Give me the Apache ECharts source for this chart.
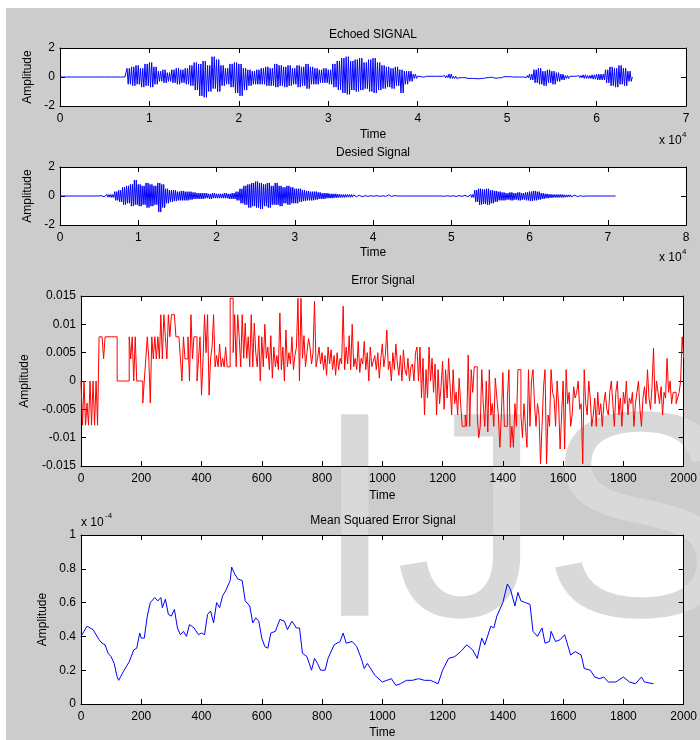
<!DOCTYPE html>
<html>
<head>
<meta charset="utf-8">
<script src="https://cdn.jsdelivr.net/npm/echarts@6/dist/echarts.min.js"></script>
<style>
  html, body { margin: 0; padding: 0; background: #fff; }
  #chart {
    width: 700px; height: 740px;
    background:
      linear-gradient(#fff, #fff) 0 0 / 100% 8px no-repeat,
      linear-gradient(#fff, #fff) 0 0 / 6px 100% no-repeat,
      #cccccc;
  }
</style>
</head>
<body>
<div id="chart"></div>
<script>
// ---- data ----
// Echoed signal: upper / lower peak per bin of 0.05 (x 10^4 samples)
const echoBin = 0.05;
const echoHi = [0,0,0,0,0,0,0,0,0,0,0,0,0,0,0,
  0.6,0.7,0.8,0.6,0.9,1.0,
  0.7,0.4,0.5,0.3,0.5,0.6,0.5,0.6,0.8,
  1.0,0.9,1.1,0.8,1.4,1.2,0.8,0.6,0.9,1.0,
  0.9,0.6,0.5,0.4,0.5,0.6,0.7,0.6,0.9,0.8,
  0.7,0.8,0.6,0.8,0.7,0.9,0.7,0.6,0.5,0.6,
  0.5,0.9,1.1,1.3,1.4,1.1,1.2,1.3,1.0,1.2,
  1.3,1.0,0.8,0.7,0.6,0.7,0.5,0.4,0.4,0.2,
  0.05,0,0.05,0.05,0.05,0.05,0.1,0.2,0.05,0,
  0.05,0,0,-0.05,-0.05,0,0.02,-0.02,0.02,0.08,
  0.06,0.05,0.04,0.05,0.1,0.2,0.5,0.6,0.4,0.5,
  0.4,0.3,0.2,0.1,0.05,0.05,0.1,0.15,0.1,0.15,
  0.2,0.2,0.5,0.7,0.6,0.8,0.6,0.4];
const echoLo = [0,0,0,0,0,0,0,0,0,0,0,0,0,0,0,
  -0.5,-0.6,-0.5,-0.7,-0.6,-0.7,
  -0.5,-0.3,-0.4,-0.3,-0.4,-0.5,-0.4,-0.5,-0.6,
  -0.9,-1.3,-1.4,-1.0,-0.8,-1.0,-0.6,-0.5,-0.7,-1.1,
  -1.3,-0.9,-0.6,-0.5,-0.5,-0.5,-0.6,-0.6,-0.7,-0.6,
  -0.7,-0.6,-0.5,-0.7,-0.6,-0.8,-0.5,-0.5,-0.4,-0.4,
  -0.5,-0.7,-0.9,-1.1,-1.2,-0.9,-1.0,-0.9,-0.8,-1.0,
  -1.1,-0.9,-0.8,-0.7,-0.8,-0.6,-1.1,-0.5,-0.3,-0.1,
  -0.05,-0.05,0,0,0,-0.05,-0.05,-0.1,-0.1,-0.05,
  -0.05,-0.1,-0.1,-0.12,-0.1,-0.05,-0.02,-0.08,-0.05,0.02,
  0.02,0,0,0,-0.05,-0.2,-0.4,-0.5,-0.6,-0.4,
  -0.5,-0.3,-0.2,-0.1,-0.05,-0.05,-0.05,-0.1,-0.1,-0.15,
  -0.2,-0.2,-0.4,-0.6,-0.7,-0.5,-0.6,-0.3];

// Desired signal, same binning
const desHi = [0,0,0,0,0,0,0,0,0,0,
  0.03,0.05,0.1,0.1,0.3,0.4,0.6,0.7,0.8,1.1,
  0.8,0.7,0.9,0.8,0.7,0.9,0.8,0.5,0.4,0.4,
  0.3,0.35,0.3,0.3,0.25,0.2,0.2,0.2,0.15,0.2,
  0.15,0.15,0.2,0.15,0.2,0.3,0.5,0.7,0.8,0.9,
  1.0,0.9,0.8,0.9,0.7,0.9,0.7,0.6,0.7,0.6,
  0.5,0.5,0.4,0.35,0.3,0.3,0.25,0.2,0.2,0.15,
  0.15,0.12,0.1,0.1,0.1,0.08,0.05,0.05,0.02,0.02,
  0.02,0.03,0.02,0.05,0.08,0.03,0,0,0,0,
  0,0,0,0,0,0,0,0,0.02,0.02,
  0.02,0.03,0.03,0.05,0.05,0.1,0.4,0.5,0.45,0.5,
  0.4,0.35,0.3,0.25,0.2,0.25,0.2,0.25,0.2,0.25,
  0.3,0.35,0.3,0.2,0.15,0.12,0.1,0.1,0.1,0.08,
  0.08,0.06,0.05,0.02,0,0,0,0,0,0,
  0,0];
const desLo = [0,0,0,0,0,0,0,0,0,0,
  -0.02,-0.05,-0.08,-0.1,-0.3,-0.4,-0.6,-0.5,-0.7,-0.6,
  -0.7,-0.6,-0.8,-0.7,-0.6,-1.1,-0.8,-0.5,-0.4,-0.35,
  -0.3,-0.3,-0.3,-0.25,-0.2,-0.2,-0.2,-0.15,-0.2,-0.15,
  -0.15,-0.15,-0.15,-0.2,-0.2,-0.3,-0.5,-0.6,-0.8,-0.7,
  -0.8,-0.9,-0.7,-0.8,-0.6,-0.6,-0.7,-0.5,-0.6,-0.5,
  -0.5,-0.4,-0.35,-0.3,-0.3,-0.25,-0.2,-0.2,-0.15,-0.15,
  -0.12,-0.1,-0.1,-0.08,-0.08,-0.05,-0.05,-0.05,-0.02,-0.02,
  -0.02,-0.03,-0.02,-0.03,-0.03,-0.02,0,0,0,0,
  0,0,0,0,0,0,0,0,-0.02,-0.02,
  -0.02,-0.03,-0.03,-0.05,-0.05,-0.1,-0.4,-0.6,-0.55,-0.6,
  -0.5,-0.4,-0.3,-0.3,-0.25,-0.3,-0.25,-0.3,-0.25,-0.3,
  -0.35,-0.3,-0.25,-0.2,-0.15,-0.12,-0.1,-0.1,-0.1,-0.08,
  -0.06,-0.05,-0.04,-0.02,0,0,0,0,0,0,
  0,0];

// Error signal, one value per 5 samples, in units of 1e-3
const errStep = 5;
const errMilli = [
  0,-7.8,0,-7.8,-3.9,-7.8,0,-7.8,0,-7.8,0,-7.8,7.8,7.8,7.8,3.9,7.8,7.8,7.8,7.8,
  7.8,7.8,7.8,7.8,0,0,0,0,0,0,0,0,7.8,3.9,7.8,0,7.8,0,0,0,
  0,-3.9,0,3.9,7.8,3.9,-3.9,7.8,3.9,7.8,3.9,7.8,3.9,11.7,3.9,11.7,7.8,3.9,11.7,7.8,
  11.7,11.7,11.7,7.8,7.8,7.8,3.9,0,7.8,3.9,3.9,7.8,0,11.7,3.9,7.8,7.8,0,3.9,7.8,
  -2.5,3.9,11.7,5,11.7,-2.5,3.9,6,11.7,2.5,4.5,2.5,6.5,2.5,4,2.5,6,2.5,2.5,14.6,
  14.6,5,11.7,2.5,11.7,7.8,2.5,11.7,4,10.2,4,7.8,2.5,11.7,2.5,10.2,5,2.5,8,0,
  7.8,2.5,10,4,6,2,8,0.5,6,2.5,4.5,2,12,2,6,0,9,2.5,5,3,
  7.8,2,4.5,6,14.6,0,14.6,4,8,2.5,5,7.5,6,3,5,14.1,2.5,4,6,3,
  5,2,4.5,1,6,3,5.5,2,4.5,1,5,2,4,3,13.2,2,6,3,8,2,
  10,2.5,4,2,7,1.5,4,3,7,2,5,0,6,2.5,3.5,4.5,2,5,0.5,4,
  6.5,2.5,4.5,9,2,3.5,0,5,2,6.5,3,1,4.5,0,5.5,2,1,4,0,2.5,
  3,0,5,6,0,6,-3,4,-6,2,-3,6,0,4,-2,3,-6,2,-4,-1,
  3.5,-5,2,-3,4,-1,-6,2,-4,-2,-6,0.5,-4,-8,-8,-6,-8,4.6,-8,2,
  -2,2.5,2.5,-6,-10,-8,2,-4,-8,0,-9,2,-6,-4,-8,0.5,-3,-6,-11.7,-6,
  1.5,-8,-8,-3,2,-11.7,-8,-11.7,-4,-8,2,2,-6,-10,-4,-8,-11.7,2,-8,0,
  2,-4,-8,-4,-6,-14.6,-8,-1,2,-14.6,-6,-8,2,-2,-3,-8,0,-4,-12,-6,
  0,-12,2,-4,-2,-8,-6,-1,-3,-2,0,-5,-4,-14.6,2,-4,-6,0,-3,-8,
  -6,-3,-8,-2,-6,-4,-8,-4,-2,-5,-6,-2,0,-4,-8,-2,0,-6,-3,-8,
  -2,-4,0,-6,-3,-4,-2,-8,-4,-2,0,-5,-8,-3,-1,-4,2,-3,-5,-1,
  5.8,-4,0,-2,-4,-1,-6,-2,-3,4,-2,0,-4,-2,-2,-4,-3,-2,0,7.8,
  4];

// Mean squared error, units of 1e-4
const mseX = [0,10,20,40,60,70,80,90,100,110,120,125,140,160,175,185,195,200,210,220,
  230,245,255,265,270,280,290,300,310,320,330,340,350,360,375,390,400,410,420,430,
  440,450,460,470,480,495,500,510,520,535,545,560,570,580,590,600,610,620,630,645,
  660,675,685,700,715,725,735,750,765,775,785,795,810,820,840,860,870,880,900,915,
  930,940,950,965,975,1000,1015,1030,1045,1060,1080,1100,1120,1140,1160,1185,1200,1220,1240,1260,
  1280,1300,1315,1330,1340,1360,1370,1380,1400,1415,1425,1440,1450,1460,1475,1490,1500,1515,1530,1540,
  1555,1560,1575,1590,1605,1625,1640,1660,1670,1690,1705,1720,1735,1750,1775,1800,1820,1840,1860,1870,
  1900];
const mseY = [0.40,0.43,0.46,0.44,0.38,0.36,0.35,0.30,0.28,0.24,0.16,0.14,0.19,0.25,0.32,0.33,0.42,0.39,0.39,0.52,
  0.60,0.63,0.61,0.63,0.57,0.62,0.53,0.52,0.56,0.45,0.41,0.43,0.40,0.47,0.45,0.41,0.42,0.41,0.53,0.55,
  0.48,0.60,0.57,0.64,0.67,0.73,0.81,0.77,0.74,0.73,0.61,0.58,0.48,0.51,0.49,0.39,0.34,0.33,0.42,0.43,
  0.50,0.49,0.44,0.49,0.45,0.45,0.30,0.28,0.20,0.27,0.24,0.20,0.20,0.27,0.35,0.37,0.42,0.36,0.37,0.34,
  0.27,0.21,0.24,0.20,0.17,0.13,0.14,0.15,0.11,0.12,0.14,0.14,0.15,0.14,0.14,0.12,0.20,0.27,0.28,0.31,
  0.35,0.32,0.27,0.39,0.35,0.46,0.45,0.52,0.60,0.71,0.68,0.58,0.66,0.61,0.60,0.59,0.43,0.40,0.45,0.36,
  0.37,0.43,0.37,0.38,0.41,0.29,0.31,0.29,0.21,0.20,0.16,0.15,0.16,0.13,0.13,0.16,0.13,0.12,0.16,0.13,
  0.12];

const titles = ['Echoed SIGNAL', 'Desied Signal', 'Error Signal', 'Mean Squared Error Signal'];

// ---- build ----
const FONT = 'Liberation Sans';

// each bin is drawn as a dense swing between its read peaks (two swings per bin)
function zigzag(hi, lo, bin) {
  const pts = [];
  const q = bin / 4;
  for (let i = 0; i < hi.length; i++) {
    const x0 = i * bin;
    pts.push([x0, hi[i]], [x0 + q, lo[i]], [x0 + 2 * q, hi[i]], [x0 + 3 * q, lo[i]]);
  }
  pts.push([hi.length * bin, 0]);
  return pts;
}

const grids = [
  { left: 60, top: 48, width: 626, height: 58 },
  { left: 60, top: 167, width: 626, height: 58 },
  { left: 81, top: 296, width: 605, height: 170 },
  { left: 81, top: 535, width: 605, height: 173 }
];

const xScale = [
  { min: 0, max: 7, interval: 1, gap: 23 },
  { min: 0, max: 8, interval: 1, gap: 22 },
  { min: 0, max: 2000, interval: 200, gap: 24 },
  { min: 0, max: 2000, interval: 200, gap: 23 }
];
const yScale = [
  { min: -2, max: 2, interval: 2, gap: 18 },
  { min: -2, max: 2, interval: 2, gap: 18 },
  { min: -15, max: 15, interval: 5, gap: 41, fmt: v => String(v / 1000) },
  { min: 0, max: 1, interval: 0.2, gap: 23, fmt: v => String(+v.toFixed(1)) }
];

const black = { color: '#000', width: 1 };
const xAxes = [], yAxes = [];
grids.forEach((g, i) => {
  const xs = xScale[i], ys = yScale[i];
  ['bottom', 'top'].forEach(pos => {
    xAxes.push({
      gridIndex: i, type: 'value', position: pos,
      min: xs.min, max: xs.max, interval: xs.interval, z: 2,
      axisLine: { show: true, onZero: false, lineStyle: black },
      axisTick: { show: true, inside: true, length: 5, lineStyle: black },
      axisLabel: { show: pos === 'bottom', color: '#000', fontSize: 12, fontFamily: FONT, margin: 7,
                   formatter: v => String(v) },
      splitLine: { show: false },
      name: pos === 'bottom' ? 'Time' : '',
      nameLocation: 'middle', nameGap: xs.gap,
      nameTextStyle: { color: '#000', fontSize: 12, fontFamily: FONT }
    });
  });
  ['left', 'right'].forEach(pos => {
    yAxes.push({
      gridIndex: i, type: 'value', position: pos,
      min: ys.min, max: ys.max, interval: ys.interval, z: 2,
      axisLine: { show: true, onZero: false, lineStyle: black },
      axisTick: { show: true, inside: true, length: 5, lineStyle: black },
      axisLabel: { show: pos === 'left', color: '#000', fontSize: 12, fontFamily: FONT, margin: 5,
                   formatter: ys.fmt || (v => String(v)) },
      splitLine: { show: false },
      name: pos === 'left' ? 'Amplitude' : '',
      nameLocation: 'middle', nameGap: ys.gap,
      nameTextStyle: { color: '#000', fontSize: 12, fontFamily: FONT }
    });
  });
});

const lineBase = { type: 'line', showSymbol: false, symbol: 'none', animation: false, z: 3, clip: true };

const series = [
  Object.assign({}, lineBase, { xAxisIndex: 0, yAxisIndex: 0,
    data: zigzag(echoHi, echoLo, echoBin), lineStyle: { color: '#0000ff', width: 1 } }),
  Object.assign({}, lineBase, { xAxisIndex: 2, yAxisIndex: 2,
    data: zigzag(desHi, desLo, echoBin), lineStyle: { color: '#0000ff', width: 1 } }),
  Object.assign({}, lineBase, { xAxisIndex: 4, yAxisIndex: 4, step: 'end',
    data: errMilli.map((v, i) => [i * errStep, v]), lineStyle: { color: '#ff0000', width: 1 } }),
  Object.assign({}, lineBase, { xAxisIndex: 6, yAxisIndex: 6,
    data: mseX.map((x, i) => [x, mseY[i]]), lineStyle: { color: '#0000ff', width: 1 } })
];

function txt(s, x, y, size, align, z) {
  return {
    type: 'text', x: x, y: y, z: z || 10, silent: true,
    style: { text: s, fontSize: size, fontFamily: FONT, fill: '#000',
             align: align || 'center', verticalAlign: 'middle',
             textAlign: align || 'center', textVerticalAlign: 'middle' }
  };
}

const graphic = [
  {
    type: 'text', x: 314, y: 535, z: 1, silent: true,
    style: { text: 'IJS', fontSize: 293, fontFamily: FONT, fill: '#d9d9d9',
             align: 'left', verticalAlign: 'middle', textAlign: 'left', textVerticalAlign: 'middle' }
  },
  txt(titles[0], 373, 35, 12),
  txt(titles[1], 373, 153, 12),
  txt(titles[2], 383, 281, 12),
  txt(titles[3], 383, 521, 12),
  txt('x 10', 659, 141, 12, 'left'),
  txt('4', 682, 135, 8, 'left'),
  txt('x 10', 659, 258, 12, 'left'),
  txt('4', 682, 252, 8, 'left'),
  txt('x 10', 81, 523, 12, 'left'),
  txt('-4', 105, 516, 8, 'left')
];

const chart = echarts.init(document.getElementById('chart'), null, { renderer: 'canvas' });
chart.setOption({
  backgroundColor: 'transparent',
  animation: false,
  grid: grids.map(g => Object.assign({ show: true, backgroundColor: '#fff', borderWidth: 0, z: 0 }, g)),
  xAxis: xAxes,
  yAxis: yAxes,
  series: series,
  graphic: graphic
});
</script>
</body>
</html>
